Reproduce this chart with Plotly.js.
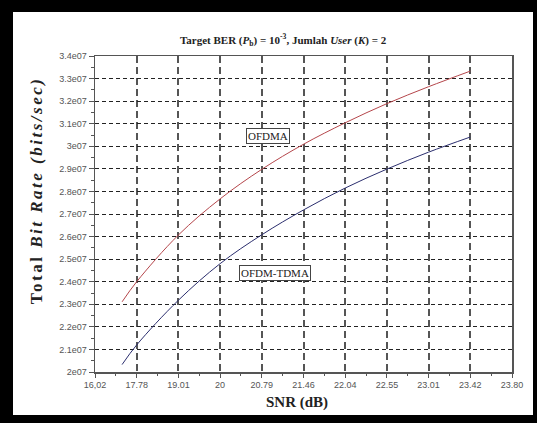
<!DOCTYPE html>
<html>
<head>
<meta charset="utf-8">
<script src="https://cdn.plot.ly/plotly-3.0.1.min.js"></script>
<style>
html,body{margin:0;padding:0;background:#000;width:537px;height:423px;overflow:hidden;}
#chart{position:absolute;left:13px;top:12px;width:520px;height:403px;background:#fff;}
</style>
</head>
<body>
<div id="chart"></div>
<script>
// Linear SNR values (x), shown on axis with their dB labels
const snrLinear = [53, 60, 80, 100, 120, 140, 160, 180, 200, 220];
const ofdmaRate = [2.311e7, 2.40e7, 2.607e7, 2.767e7, 2.898e7, 3.009e7, 3.104e7, 3.189e7, 3.264e7, 3.333e7];
const ofdmTdmaRate = [2.033e7, 2.12e7, 2.318e7, 2.48e7, 2.608e7, 2.718e7, 2.815e7, 2.899e7, 2.974e7, 3.041e7];

const xTickVals = [40, 60, 80, 100, 120, 140, 160, 180, 200, 220, 240];
const xTickText = ["16,02", "17.78", "19.01", "20", "20.79", "21.46", "22.04", "22.55", "23.01", "23.42", "23.80"];
const yTickVals = [2.0e7, 2.1e7, 2.2e7, 2.3e7, 2.4e7, 2.5e7, 2.6e7, 2.7e7, 2.8e7, 2.9e7, 3.0e7, 3.1e7, 3.2e7, 3.3e7, 3.4e7];
const yTickText = ["2e07", "2.1e07", "2.2e07", "2.3e07", "2.4e07", "2.5e07", "2.6e07", "2.7e07", "2.8e07", "2.9e07", "3e07", "3.1e07", "3.2e07", "3.3e07", "3.4e07"];

const traces = [
  {x: snrLinear, y: ofdmaRate, mode: 'lines', name: 'OFDMA', line: {color: '#b5464b', width: 1, shape: 'spline'}},
  {x: snrLinear, y: ofdmTdmaRate, mode: 'lines', name: 'OFDM-TDMA', line: {color: '#2b2e6e', width: 1, shape: 'spline'}}
];

const serif = 'Liberation Serif, Times New Roman, serif';
const layout = {
  width: 520, height: 403,
  margin: {l: 82, r: 21, t: 44, b: 43},
  paper_bgcolor: '#fff', plot_bgcolor: '#fff',
  showlegend: false,
  xaxis: {
    range: [40, 240], tickvals: xTickVals, ticktext: xTickText,
    showgrid: true, gridcolor: '#555', griddash: '7px,4px', gridwidth: 2,
    showline: true, linecolor: '#555', linewidth: 1.5, mirror: true,
    ticks: 'outside', ticklen: 4, tickcolor: '#555',
    minor: {dtick: 10, tick0: 40, ticks: 'outside', ticklen: 2, tickcolor: '#555', showgrid: false},
    tickfont: {family: 'Liberation Sans, Arial, sans-serif', size: 9, color: '#555'},
    zeroline: false
  },
  yaxis: {
    range: [2.0e7, 3.4e7], tickvals: yTickVals, ticktext: yTickText,
    showgrid: true, gridcolor: '#222', griddash: '4px,3px', gridwidth: 1,
    showline: true, linecolor: '#555', linewidth: 1.5, mirror: true,
    ticks: 'outside', ticklen: 5, tickcolor: '#555',
    minor: {dtick: 5e5, tick0: 2.0e7, ticks: 'outside', ticklen: 3, tickcolor: '#555', showgrid: false},
    tickfont: {family: 'Liberation Sans, Arial, sans-serif', size: 9, color: '#555'},
    zeroline: false
  },
  annotations: [
    {text: '<b>Target BER (<i>P</i><sub>b</sub>) = 10<sup>-3</sup>, Jumlah <i>User</i> (<i>K</i>) = 2</b>',
     xref: 'paper', yref: 'paper', x: 0.453, y: 1, yshift: 16, showarrow: false,
     xanchor: 'center', yanchor: 'middle', font: {family: serif, size: 11, color: '#222'}},
    {text: '<b>Total <i>Bit Rate (bits/sec)</i></b>', textangle: -90,
     xref: 'paper', yref: 'paper', x: -0.139, y: 0.573, showarrow: false,
     xanchor: 'center', yanchor: 'middle', font: {family: serif, size: 17, color: '#222'}},
    {text: '<b>SNR (dB)</b>',
     xref: 'paper', yref: 'paper', x: 0.484, y: -0.098, showarrow: false,
     xanchor: 'center', yanchor: 'middle', font: {family: serif, size: 15, color: '#222'}},
    {text: 'OFDMA', x: 123, y: 3.0455e7, showarrow: false, bgcolor: '#fff',
     bordercolor: '#444', borderwidth: 1, borderpad: 1, font: {family: serif, size: 11, color: '#222'}},
    {text: 'OFDM-TDMA', x: 126.5, y: 2.44e7, showarrow: false, bgcolor: '#fff',
     bordercolor: '#444', borderwidth: 1, borderpad: 1, font: {family: serif, size: 11, color: '#222'}}
  ]
};
Plotly.newPlot('chart', traces, layout, {displayModeBar: false, staticPlot: true}).then(function (gd) {
  // Reference y-title is stretched along its length; widen its spacing to match.
  const t = gd.querySelector('g.annotation[data-index="1"] text');
  if (t) { t.style.letterSpacing = '2.5px'; }
});
</script>
</body>
</html>
